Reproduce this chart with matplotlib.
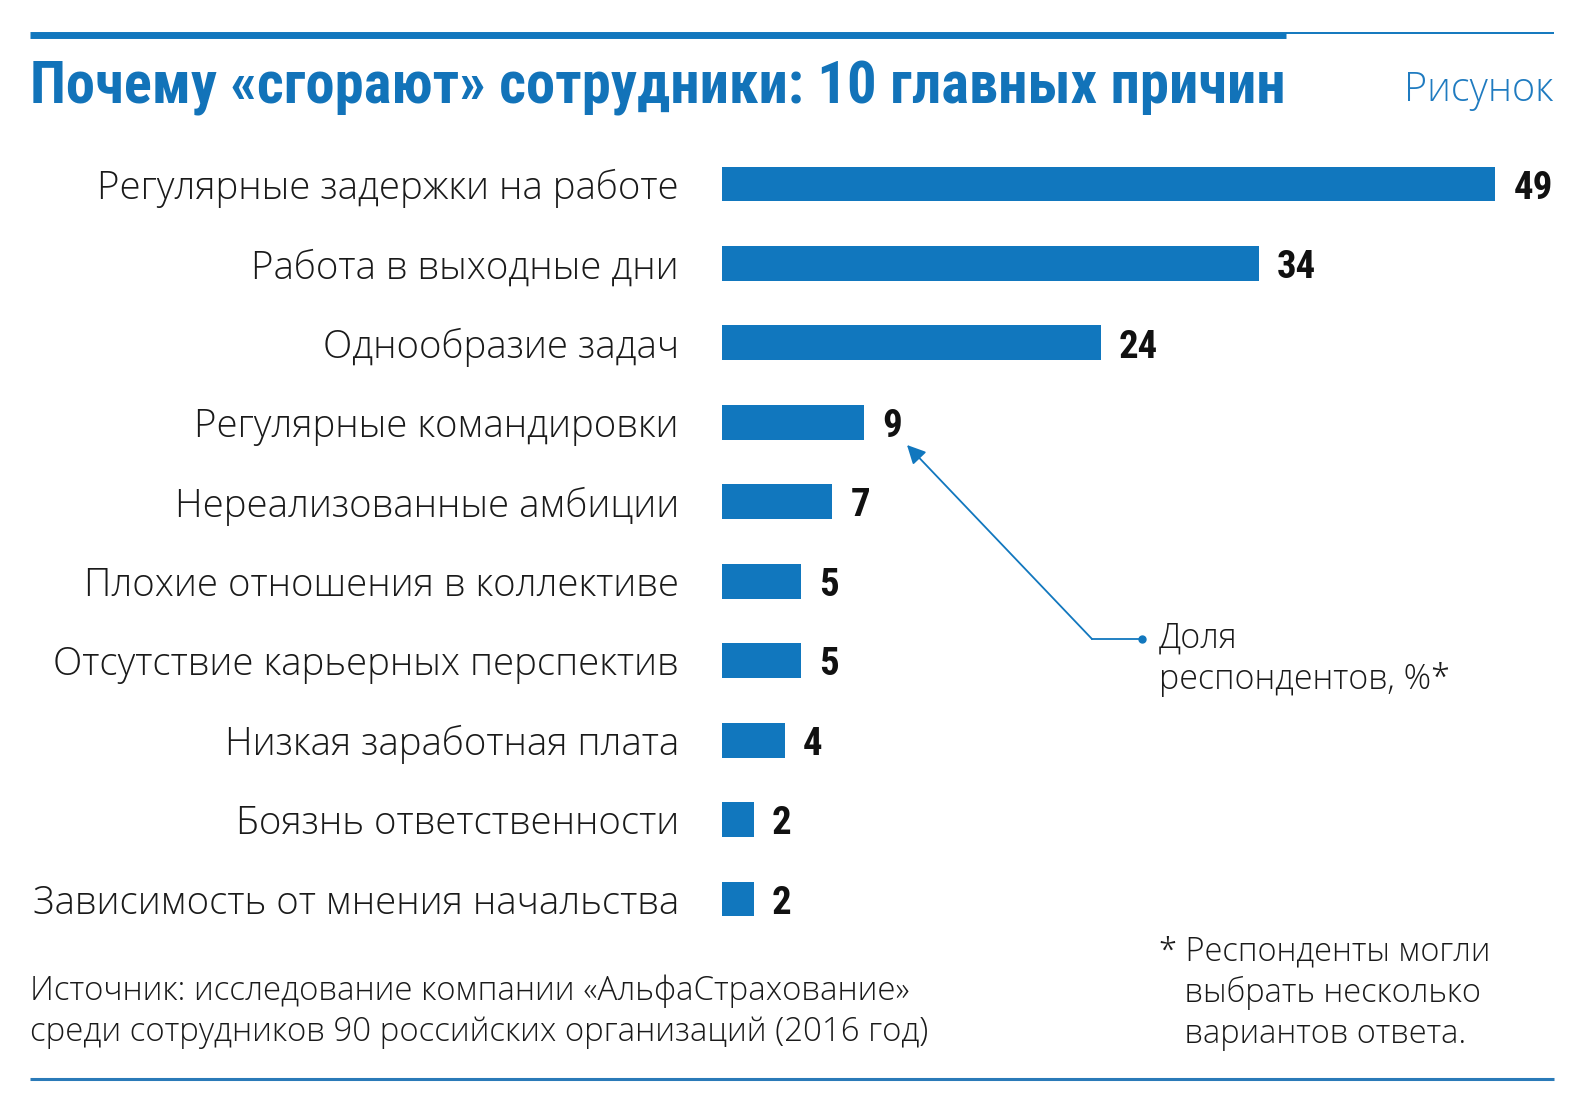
import matplotlib.pyplot as plt
from matplotlib.lines import Line2D

categories = [
    'Регулярные задержки на работе',
    'Работа в выходные дни',
    'Однообразие задач',
    'Регулярные командировки',
    'Нереализованные амбиции',
    'Плохие отношения в коллективе',
    'Отсутствие карьерных перспектив',
    'Низкая заработная плата',
    'Боязнь ответственности',
    'Зависимость от мнения начальства',
]
values = [49, 34, 24, 9, 7, 5, 5, 4, 2, 2]

title = 'Почему «сгорают» сотрудники: 10 главных причин'
fig_label = 'Рисунок'
note_arrow = 'Доля\nреспондентов, %*'
note_star = '* Респонденты могли\n   выбрать несколько\n   вариантов ответа.'
source = 'Источник: исследование компании «АльфаСтрахование»\nсреди сотрудников 90 российских организаций (2016 год)'

BLUE = '#1177be'
W, H = 1586, 1107
BODY = ['Open Sans', 'DejaVu Sans']
COND = ['Roboto Condensed', 'DejaVu Sans']


def fx(px):
    return px / W


def fy(py):
    return 1 - py / H


def fit_width(t, width_px):
    # scale font size so the rendered text spans width_px
    r = fig.canvas.get_renderer()
    w = t.get_window_extent(renderer=r).width
    t.set_fontsize(t.get_fontsize() * width_px / w)


fig = plt.figure(figsize=(W / 100, H / 100), dpi=100)

# axes: bar origin at x=722, 15.78 px per unit, rows 79.4 px apart starting at y=184
ax = fig.add_axes([fx(722), fy(938.7), 50 * 15.78 / W, 794.4 / H])
ypos = range(len(categories))
ax.barh(ypos, values, height=0.44, color=BLUE)
ax.set_xlim(0, 50)
ax.set_ylim(len(categories) - 0.5, -0.5)
ax.set_yticks(list(ypos))
ax.set_yticklabels(categories, family=BODY, weight='light', fontsize=27.6, color='#1a1a1a')
ax.tick_params(axis='y', length=0, pad=31)
ax.set_xticks([])
for s in ax.spines.values():
    s.set_visible(False)

for i, v in enumerate(values):
    ax.annotate(str(v), (v, i), xytext=(13, -3), textcoords='offset points',
                ha='left', va='center', fontsize=28, weight='heavy', stretch='condensed',
                family=COND, color='#111111')

# header
tt = fig.text(fx(30), fy(103), title, ha='left', va='baseline', fontsize=36,
              weight='bold', stretch='condensed', family=COND, color='#1273b9')
fit_width(tt, 1255)
fig.text(fx(1553), fy(101), fig_label, ha='right', va='baseline', fontsize=28.5,
         family=BODY, weight='light', color='#1f7bc0')
fig.add_artist(Line2D([fx(30), fx(1286)], [fy(35), fy(35)], lw=5, color=BLUE,
                      solid_capstyle='butt'))
fig.add_artist(Line2D([fx(1286), fx(1554)], [fy(32.5), fy(32.5)], lw=1.4, color=BLUE,
                      solid_capstyle='butt'))
fig.add_artist(Line2D([fx(30), fx(1554)], [fy(1079), fy(1079)], lw=2.2, color='#2a7ab8',
                      solid_capstyle='butt'))

# callout arrow
fig.add_artist(Line2D([fx(1142), fx(1092)], [fy(639), fy(639)], lw=1.3, color=BLUE))
fig.add_artist(Line2D([fx(1142)], [fy(639)], marker='o', ms=5, color=BLUE))
ax.annotate('', xy=(907, H - 445), xycoords='figure pixels',
            xytext=(1092, H - 639), textcoords='figure pixels',
            arrowprops=dict(arrowstyle='-|>', color=BLUE, lw=1.3, mutation_scale=28,
                            shrinkA=0, shrinkB=0))

fig.text(fx(1159), fy(659), note_arrow, ha='left', va='center', fontsize=24.5,
         family=BODY, weight='light', color='#1a1a1a', linespacing=1.25)
fig.text(fx(1159), fy(993), note_star, ha='left', va='center', fontsize=23.5,
         family=BODY, weight='light', color='#1a1a1a', linespacing=1.3)
fig.text(fx(30), fy(1012), source, ha='left', va='center', fontsize=23.8,
         family=BODY, weight='light', color='#1a1a1a', linespacing=1.3)

fig.savefig('out.png', dpi=100)
